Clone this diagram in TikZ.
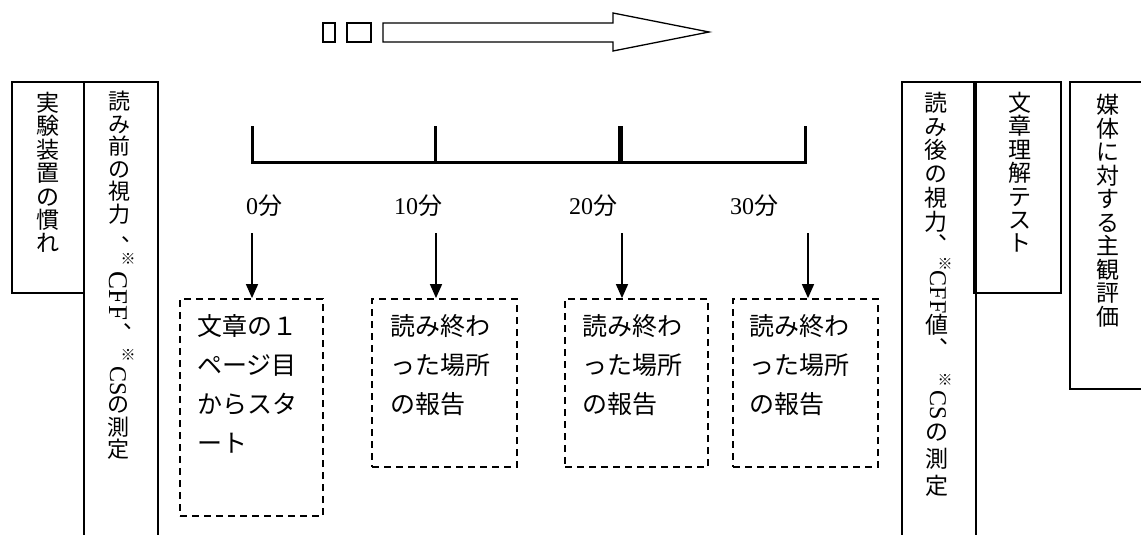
\documentclass[tikz,border=0pt]{standalone}
\usepackage{fontspec}
\setmainfont{Noto Sans CJK JP}
\newfontfamily\jpv{Noto Sans CJK JP}[RawFeature=+vert]
\newfontfamily\lat{Liberation Serif}
\usetikzlibrary{arrows.meta,calc}
\begin{document}
\begin{tikzpicture}[x=1pt,y=-1pt,
  frame/.style={line width=1.2pt, draw=black},
  dbox/.style={draw, dash pattern=on 7pt off 5pt, line width=1.8pt, inner sep=0pt},
  vcol/.style={inner sep=0pt, align=center, anchor=north},
  vlat/.style={inner sep=0pt, rotate=-90},
  kome/.style={inner sep=0pt, text height=11pt, text depth=0pt, font=\fontsize{15}{15}\selectfont},
  tenm/.style={inner sep=0pt, anchor=base west, text height=7pt, text depth=1pt, font=\fontsize{22}{22}\selectfont},
  btxt/.style={inner sep=0pt, align=left, anchor=north west, font=\fontsize{25}{39}\selectfont},
  tlab/.style={inner sep=0pt, font=\fontsize{24}{24}\selectfont},
  arr/.style={-{Triangle[width=12pt,length=14pt]}, line width=1.5pt},
  tline/.style={line width=3pt}]
\useasboundingbox (0,0) rectangle (1141,535);

% top arrow
\draw[line width=1.3pt] (323,23) rectangle (335,42);
\draw[line width=1.3pt] (347,23) rectangle (371,42);
\draw[line width=1.3pt, line join=miter] (383,23) -- (613,23) -- (613,13) -- (709,32) -- (613,51) -- (613,42) -- (383,42) -- cycle;

% left frames
\draw[frame] (12,82) rectangle (84,293);
\draw[frame] (84,535) -- (84,82) -- (158,82) -- (158,535);
\node[vcol, font=\fontsize{23}{23.4}\selectfont] (pre1) at (48,92) {実\\験\\装\\置\\の\\慣\\れ};
\node[vcol, font=\fontsize{22}{22.5}\selectfont] (pre2a) at (119,91) {読\\み\\前\\の\\視\\力};
\node[tenm] (pre2b) at (121,241) {、};
\node[kome] (pre2c) at (128,259) {※};
\node[vlat, font=\lat\fontsize{27}{27}\selectfont] (pre2d) at (118,296) {CFF};
\node[tenm] (pre2e) at (123,328) {、};
\node[kome] (pre2f) at (128,355) {※};
\node[vlat, font=\lat\fontsize{24}{24}\selectfont] (pre2g) at (118,381) {CS};
\node[vcol, font=\fontsize{22}{22.5}\selectfont] (pre2h) at (118,397) {の\\測\\定};

% right frames
\draw[frame] (902,535) -- (902,82) -- (976,82) -- (976,535);
\draw[frame] (974,82) rectangle (1061,293);
\draw[frame] (1141,82) -- (1070,82) -- (1070,389) -- (1141,389);
\node[vcol, font=\jpv\fontsize{23}{23.7}\selectfont] (post1a) at (936,92) {読\\み\\後\\の\\視\\力\\、};
\node[kome] (post1c) at (945,263.5) {※};
\node[vlat, font=\lat\fontsize{24}{24}\selectfont] (post1d) at (938,292) {CFF};
\node[vcol, font=\jpv\fontsize{23}{23.7}\selectfont] (post1e) at (937,314) {値\\、};
\node[kome] (post1g) at (945,380) {※};
\node[vlat, font=\lat\fontsize{24}{24}\selectfont] (post1h) at (938,405) {CS};
\node[vcol, font=\fontsize{23}{27}\selectfont] (post1i) at (937,424) {の\\測\\定};
\node[vcol, font=\fontsize{23}{23.4}\selectfont] (post2) at (1020,92) {文\\章\\理\\解\\テ\\ス\\ト};
\node[vcol, font=\fontsize{23}{23.5}\selectfont] (post3) at (1108,94) {媒\\体\\に\\対\\す\\る\\主\\観\\評\\価};

% timeline
\coordinate (t0) at (252,126);
\coordinate (t1) at (435,126);
\coordinate (t2) at (620,126);
\coordinate (t3) at (805,126);
\draw[tline] (t0) -- (252,162) -- (805,162) -- (t3);
\draw[tline] (t1) -- (435,162);
\draw[line width=5pt] (t2) -- (620,162);

\node[tlab] (l0) at (264,206) {{\lat 0}分};
\node[tlab] (l1) at (418,206) {{\lat 10}分};
\node[tlab] (l2) at (593,206) {{\lat 20}分};
\node[tlab] (l3) at (754,206) {{\lat 30}分};

% dashed boxes
\node[dbox, minimum width=143pt, minimum height=217pt] (b1) at (251.5,407.5) {};
\node[dbox, minimum width=145pt, minimum height=168pt] (b2) at (444.5,383) {};
\node[dbox, minimum width=143pt, minimum height=168pt] (b3) at (636.5,383) {};
\node[dbox, minimum width=145pt, minimum height=168pt] (b4) at (805.5,383) {};

\node[btxt] (x1) at ($(b1.north west)+(18,16)$) {文章の１\\ページ目\\からスタ\\ート};
\node[btxt] (x2) at ($(b2.north west)+(19,16)$) {読み終わ\\った場所\\の報告};
\node[btxt] (x3) at ($(b3.north west)+(18,16)$) {読み終わ\\った場所\\の報告};
\node[btxt] (x4) at ($(b4.north west)+(17,16)$) {読み終わ\\った場所\\の報告};

% arrows
\coordinate (a1) at (252,233);
\coordinate (a2) at (436,233);
\coordinate (a3) at (622,233);
\coordinate (a4) at (808,233);
\draw[arr] (a1) -- (a1 |- b1.north);
\draw[arr] (a2) -- (a2 |- b2.north);
\draw[arr] (a3) -- (a3 |- b3.north);
\draw[arr] (a4) -- (a4 |- b4.north);
\end{tikzpicture}
\end{document}
